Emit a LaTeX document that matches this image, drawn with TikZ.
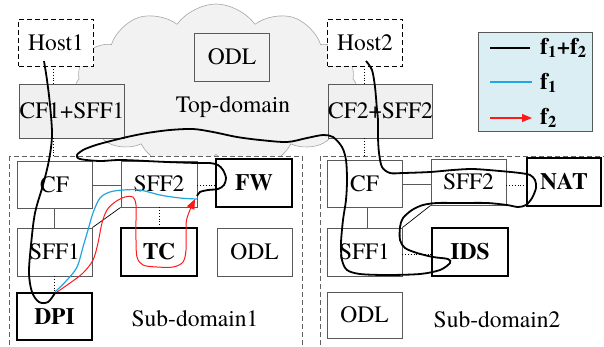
\documentclass[tikz,border=0pt]{standalone}
\usepackage{fontspec}
\setmainfont{TeX Gyre Termes}
\newfontfamily\tnr{TeX Gyre Termes}
\usetikzlibrary{shapes.symbols,arrows.meta,calc}
\definecolor{cloudfill}{HTML}{F2F2F2}
\definecolor{cloudline}{HTML}{A6A6A6}
\definecolor{boxline}{HTML}{595959}
\definecolor{boxfill}{HTML}{F0F0F0}
\definecolor{legfill}{HTML}{DAEEF3}
\definecolor{fblue}{HTML}{1EA7E1}
\definecolor{fred}{HTML}{FF1A1A}
\definecolor{framegray}{HTML}{606060}
\tikzset{
  txt/.style={font=\tnr\fontsize{23.5}{26}\selectfont},
  btxt/.style={font=\tnr\fontsize{23.5}{26}\selectfont\bfseries},
  box/.style={txt,draw=boxline,line width=0.9pt,fill=white,inner sep=0pt,minimum width=#1},
  box/.default=75pt,
  bbox/.style={box,draw=black,line width=1.9pt,btxt},
  hostbox/.style={box,draw=black,dash pattern=on 5pt off 3pt,line width=0.9pt},
  graybox/.style={box,fill=boxfill},
  frame/.style={draw=framegray,dash pattern=on 5pt off 3pt,line width=1pt,fill=white},
  gconn/.style={draw=boxline,line width=0.9pt},
  dconn/.style={draw=black,dotted,line width=0.8pt},
  flowboth/.style={draw=black,line width=1.8pt},
  flowone/.style={draw=fblue,line width=1.2pt},
  flowtwo/.style={draw=fred,line width=1pt},
}
\begin{document}
\begin{tikzpicture}[x=1pt,y=-1pt]
\useasboundingbox (0,0) rectangle (604,346);
\clip (0,0) rectangle (604,346);
% cloud
\begin{scope}
\clip (0,0) rectangle (604,157);
\node[cloud,cloud puffs=11,cloud puff arc=110,cloud ignores aspect,minimum width=285pt,minimum height=168pt,fill=cloudfill,draw=cloudline,line width=0.6pt] (cloud) at (216,88) {};
\end{scope}
% frames
\path[frame] (9,156) rectangle (302,380);
\path[frame] (320,156) rectangle (640,380);
% top domain
\node[hostbox,minimum height=47pt] (host1) at (56,42.5) {Host1};
\node[hostbox,minimum height=47pt] (host2) at (365,42.5) {Host2};
\node[graybox=126pt,minimum height=54pt] (cs1) at (72,111) {CF1+SFF1};
\node[graybox=123pt,minimum height=54pt] (cs2) at (380.5,111) {CF2+SFF2};
\node[box,fill=cloudfill,minimum height=48pt] (odlt) at (232,57) {ODL};
\node[txt] (topl) at (233,107) {Top-domain};
% sub-domain1
\node[box,minimum height=47pt] (cfa) at (54.5,184.5) {CF};
\node[box=76pt,minimum height=46pt] (sfa2) at (159,184) {SFF2};
\node[bbox,minimum width=76pt,minimum height=48pt] (fw) at (254,183) {FW};
\node[box,minimum height=48pt] (sfa1) at (54.5,252) {SFF1};
\node[bbox,minimum width=76pt,minimum height=48pt] (tc) at (159,252) {TC};
\node[box,minimum height=48pt] (odla) at (254.5,252) {ODL};
\node[bbox,minimum width=75pt,minimum height=47pt] (dpi) at (54.5,316.5) {DPI};
\node[txt] (subl1) at (195,319) {Sub-domain1};
% sub-domain2
\node[box,minimum height=47pt] (cfb) at (364.5,183.5) {CF};
\node[box,minimum height=46pt] (sfb2) at (468.5,182) {SFF2};
\node[bbox,minimum width=74pt,minimum height=48pt] (nat) at (564,182) {NAT};
\node[box,minimum height=48pt] (sfb1) at (364.5,252) {SFF1};
\node[bbox,minimum width=76pt,minimum height=48pt] (ids) at (470,252) {IDS};
\node[box,minimum height=46pt] (odlb) at (364.5,315) {ODL};
\node[txt] (subl2) at (497,320) {Sub-domain2};
% connectors top
\draw[dconn] (host1.south -| 53,0) -- (cs1.north -| 53,0);
\draw[dconn] (cs1.south -| 53,0) -- (53,156);
\draw[dconn] (host2.south -| 364,0) -- (cs2.north -| 364,0);
\draw[dconn] (cs2.south -| 364,0) -- (364,156);
% connectors sub1
\draw[gconn] (cfa.east |- 0,185) -- (sfa2.west |- 0,185);
\draw[gconn] (cfa.south) -- (sfa1.north);
\draw[dconn] (sfa1.south) -- (dpi.north);
\draw[dconn] (sfa2.south) -- (tc.north);
\draw[dconn] (sfa2.east |- 0,185) -- (fw.west |- 0,185);
\draw[black,line width=0.7pt] (sfa1.north east) -- (sfa2.south west);
% connectors sub2
\draw[gconn] (cfb.east |- 0,184) -- (sfb2.west |- 0,184);
\draw[gconn] (cfb.south -| 367,0) -- (sfb1.north -| 367,0);
\draw[dconn] (sfb1.east |- 0,254) -- (ids.west |- 0,254);
\draw[dconn] (sfb2.east |- 0,185) -- (nat.west |- 0,185);
\draw[black,line width=0.7pt] (sfb1.north east) -- (sfb2.south west);
% flows
\draw[flowboth] plot[smooth,tension=0.55] coordinates {(44,61) (47,80) (50,105) (52,135) (49,160) (43,185) (35,213) (31,245) (29,273) (32,292) (39,302) (48,302) (55,293)};
\draw[flowone] plot[smooth,tension=0.55] coordinates {(55,292) (67,280) (77,267) (83,247) (88,230) (93,213) (100,198) (110,192) (123,190) (140,190) (160,195) (180,198) (197,199)};
\draw[flowtwo,-{Triangle[length=10pt,width=8pt]}] plot[smooth,tension=0.55] coordinates {(57,292) (70,283) (83,273) (93,260) (98,243) (102,223) (107,210) (115,202) (125,197) (133,197) (136,205) (136,220) (136,240) (137,257) (143,265) (157,267) (173,267) (183,262) (186,250) (186,233) (187,218) (195,199)};
\draw[flowboth] plot[smooth,tension=0.5] coordinates {(197,196) (200,192) (208,190) (218,189) (224,185) (226,178) (223,170) (218,165) (210,163) (197,163) (167,162) (122,160) (100,161) (80,159) (77,155) (83,150) (93,146) (103,143) (127,137) (147,133) (170,130) (193,129) (213,132) (237,137) (260,140) (287,142) (307,138) (323,135) (333,137) (342,147) (346,160) (347,180) (346,200) (343,220) (341,243) (342,260) (347,270) (360,274) (387,275) (420,274) (440,270) (450,263) (448,259) (433,257) (417,253) (405,248) (400,240) (400,227) (403,218) (412,210) (423,205) (437,203) (460,203) (487,203) (507,205) (518,207) (526,205) (532,198) (536,188) (535,180) (530,175) (520,173) (500,171) (473,169) (453,170) (430,172) (403,173) (390,173) (382,167) (379,153) (378,137) (378,120) (377,110) (375,87) (372,70) (366,61)};
% legend
\node[draw=boxline,line width=0.9pt,fill=legfill,minimum width=114pt,minimum height=99pt,inner sep=0pt] (leg) at (535,81.5) {};
\coordinate (la1) at (490,48); \coordinate (lb1) at (530,48);
\coordinate (la2) at (490,82); \coordinate (lb2) at (532,82);
\coordinate (la3) at (490,118); \coordinate (lb3) at (532,118);
\draw[black,line width=1.1pt] (la1) -- (lb1);
\draw[fblue,line width=1.1pt] (la2) -- (lb2);
\draw[fred,line width=1.1pt,-{Triangle[length=10pt,width=8pt]}] (la3) -- (lb3);
\node[btxt,anchor=west,inner sep=0pt] (lt1) at (540,48) {f\textsubscript{1}+f\textsubscript{2}};
\node[btxt,anchor=west,inner sep=0pt] (lt2) at (540,83) {f\textsubscript{1}};
\node[btxt,anchor=west,inner sep=0pt] (lt3) at (540,118) {f\textsubscript{2}};
\end{tikzpicture}
\end{document}
